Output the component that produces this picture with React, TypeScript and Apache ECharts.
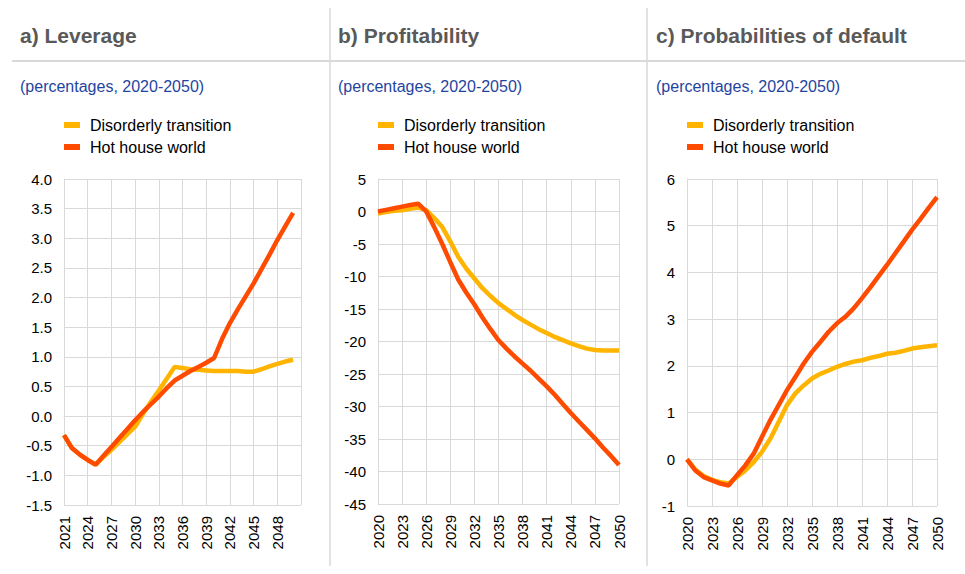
import React, { useEffect, useRef } from "react";
import * as echarts from "echarts";

const SERIES_NAMES = ["Disorderly transition", "Hot house world"];
const COLORS = ["#FFB400", "#FF4B00"];

const PANEL_TITLES = ["a) Leverage", "b) Profitability", "c) Probabilities of default"];
const SUBTITLE = "(percentages, 2020-2050)";

// Panel a: Leverage, 2021-2050
const leverageYears = Array.from({ length: 30 }, (_, i) => 2021 + i);
const leverageDisorderly = [
  -0.32, -0.54, -0.65, -0.74, -0.82, -0.69, -0.57, -0.44, -0.31, -0.18,
  0.04, 0.24, 0.43, 0.63, 0.83, 0.81, 0.79, 0.78, 0.77, 0.76,
  0.76, 0.76, 0.76, 0.75, 0.75, 0.79, 0.84, 0.88, 0.92, 0.95,
];
const leverageHotHouse = [
  -0.32, -0.54, -0.65, -0.74, -0.82, -0.67, -0.52, -0.37, -0.22, -0.07,
  0.07, 0.2, 0.33, 0.47, 0.6, 0.68, 0.76, 0.83, 0.9, 0.98,
  1.3, 1.57, 1.8, 2.02, 2.24, 2.48, 2.72, 2.97, 3.2, 3.43,
];

// Panel b: Profitability, 2020-2050
const profitYears = Array.from({ length: 31 }, (_, i) => 2020 + i);
const profitDisorderly = [
  -0.3, -0.1, 0.1, 0.2, 0.4, 0.6, 0.2, -1.0, -2.4, -4.6, -7.0,
  -8.8, -10.3, -11.8, -13.0, -14.1, -15.0, -15.9, -16.7, -17.4, -18.1,
  -18.7, -19.3, -19.8, -20.3, -20.7, -21.1, -21.3, -21.4, -21.4, -21.4,
];
const profitHotHouse = [
  0, 0.25, 0.5, 0.75, 1.0, 1.2, 0, -2.4, -5.0, -7.8, -10.5,
  -12.5, -14.3, -16.3, -18.1, -19.8, -21.1, -22.3, -23.4, -24.5, -25.7,
  -26.9, -28.2, -29.6, -31.0, -32.3, -33.6, -34.9, -36.3, -37.6, -39.0,
];

// Panel c: Probabilities of default, 2020-2050
const pdYears = Array.from({ length: 31 }, (_, i) => 2020 + i);
const pdDisorderly = [
  0.0, -0.22, -0.36, -0.44, -0.49, -0.52, -0.38, -0.24, -0.06, 0.16, 0.44,
  0.8, 1.16, 1.41, 1.58, 1.73, 1.83, 1.9, 1.98, 2.04, 2.09,
  2.12, 2.17, 2.21, 2.26, 2.28, 2.32, 2.37, 2.4, 2.42, 2.44,
];
const pdHotHouse = [
  0.0, -0.24, -0.38, -0.45, -0.52, -0.56, -0.34, -0.13, 0.12, 0.48, 0.84,
  1.16, 1.48, 1.76, 2.05, 2.3, 2.51, 2.73, 2.91, 3.05, 3.23,
  3.45, 3.68, 3.92, 4.16, 4.41, 4.66, 4.91, 5.14, 5.38, 5.61,
];

// Axis definitions
const xAxisStart = [2021, 2020, 2020];
const xAxisSpan = 30;
const xAxisStep = 3;
const yAxisMin = [-1.5, -45, -1];
const yAxisMax = [4.0, 5, 6];
const yAxisStep = [0.5, 5, 1];
const yAxisDecimals = [1, 0, 0];

const FONT = "'Liberation Sans', Arial, Helvetica, sans-serif";
const GRID_COLOR = "#d9d9d9";

export default function App() {
  const ref = useRef<HTMLDivElement>(null);

  useEffect(() => {
    if (!ref.current) return;
    const chart = echarts.init(ref.current, undefined, { renderer: "svg" });

    const grids = [
      { left: 64, right: 664, top: 179, bottom: 69 },
      { left: 378, right: 346, top: 179, bottom: 70 },
      { left: 687, right: 28, top: 179, bottom: 68 },
    ];
    const panelX = [20, 338, 656];
    const legendX = [64, 378, 687];

    const panels = [
      { years: leverageYears, dis: leverageDisorderly, hot: leverageHotHouse },
      { years: profitYears, dis: profitDisorderly, hot: profitHotHouse },
      { years: pdYears, dis: pdDisorderly, hot: pdHotHouse },
    ];

    const xAxes = grids.map((_, i) => ({
      type: "value",
      gridIndex: i,
      min: 0,
      max: xAxisSpan,
      interval: xAxisStep,
      axisLine: { show: true, lineStyle: { color: GRID_COLOR, width: 1 } },
      axisTick: { show: false },
      splitLine: { show: true, lineStyle: { color: GRID_COLOR, width: 1 } },
      axisLabel: {
        rotate: 90,
        margin: 11,
        fontSize: 15,
        color: "#000",
        fontFamily: FONT,
        showMaxLabel: i !== 0,
        formatter: (v: number) => String(xAxisStart[i] + v),
      },
    }));

    const yAxes = grids.map((_, i) => ({
      type: "value",
      gridIndex: i,
      min: yAxisMin[i],
      max: yAxisMax[i],
      interval: yAxisStep[i],
      axisLine: { show: true, lineStyle: { color: GRID_COLOR, width: 1 } },
      axisTick: { show: false },
      splitLine: { show: true, lineStyle: { color: GRID_COLOR, width: 1 } },
      axisLabel: {
        margin: 12,
        fontSize: 15,
        color: "#000",
        fontFamily: FONT,
        formatter: (v: number) => v.toFixed(yAxisDecimals[i]),
      },
    }));

    const series: any[] = [];
    panels.forEach((p, i) => {
      [p.dis, p.hot].forEach((vals, k) => {
        series.push({
          type: "line",
          name: SERIES_NAMES[k],
          xAxisIndex: i,
          yAxisIndex: i,
          data: vals.map((v, j) => [p.years[j] - xAxisStart[i], v]),
          symbol: "none",
          smooth: false,
          lineStyle: { color: COLORS[k], width: 4.5 },
          itemStyle: { color: COLORS[k] },
          z: 3 + k,
        });
      });
    });

    const legends = legendX.map((x) => ({
      data: SERIES_NAMES,
      orient: "vertical",
      left: x,
      top: 117,
      padding: 0,
      itemGap: 6,
      itemWidth: 16,
      itemHeight: 6,
      icon: "rect",
      selectedMode: false,
      textStyle: {
        fontSize: 16,
        color: "#000",
        fontFamily: FONT,
        padding: [0, 0, 0, 5],
      },
    }));

    const graphic: any[] = [
      {
        type: "line",
        shape: { x1: 12, y1: 61, x2: 965, y2: 61 },
        style: { stroke: GRID_COLOR, lineWidth: 2 },
      },
      {
        type: "line",
        shape: { x1: 330, y1: 8, x2: 330, y2: 566 },
        style: { stroke: GRID_COLOR, lineWidth: 1.5 },
      },
      {
        type: "line",
        shape: { x1: 647, y1: 8, x2: 647, y2: 566 },
        style: { stroke: GRID_COLOR, lineWidth: 1.5 },
      },
    ];
    PANEL_TITLES.forEach((t, i) => {
      graphic.push({
        type: "text",
        x: panelX[i],
        y: 35,
        style: {
          text: t,
          fontSize: 21,
          fontWeight: "bold",
          fill: "#595959",
          fontFamily: FONT,
          textVerticalAlign: "middle",
          verticalAlign: "middle",
        },
      });
      graphic.push({
        type: "text",
        x: panelX[i],
        y: 86,
        style: {
          text: SUBTITLE,
          fontSize: 16,
          fill: "#1f45a0",
          fontFamily: FONT,
          textVerticalAlign: "middle",
          verticalAlign: "middle",
        },
      });
    });

    chart.setOption({
      animation: false,
      backgroundColor: "#ffffff",
      grid: grids,
      xAxis: xAxes,
      yAxis: yAxes,
      legend: legends,
      series,
      graphic,
    });

    return () => chart.dispose();
  }, []);

  return (
    <div
      ref={ref}
      style={{ position: "fixed", left: 0, top: 0, width: 965, height: 574 }}
    />
  );
}
